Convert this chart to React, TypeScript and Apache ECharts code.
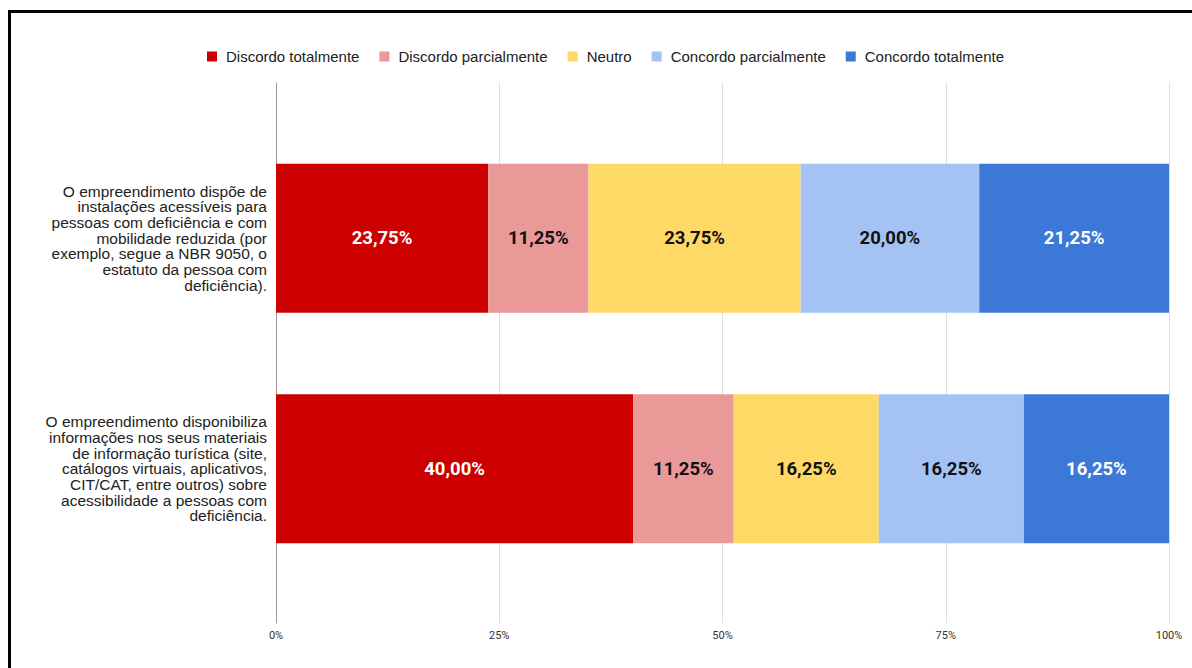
import React, { useEffect, useRef } from "react";
import * as echarts from "echarts";

const categories = [
  "O empreendimento dispõe de\ninstalações acessíveis para\npessoas com deficiência e com\nmobilidade reduzida (por\nexemplo, segue a NBR 9050, o\nestatuto da pessoa com\ndeficiência).",
  "O empreendimento disponibiliza\ninformações nos seus materiais\nde informação turística (site,\ncatálogos virtuais, aplicativos,\nCIT/CAT, entre outros) sobre\nacessibilidade a pessoas com\ndeficiência.",
];

const seriesNames = [
  "Discordo totalmente",
  "Discordo parcialmente",
  "Neutro",
  "Concordo parcialmente",
  "Concordo totalmente",
];

const discordoTotalmente = [23.75, 40.0];
const discordoParcialmente = [11.25, 11.25];
const neutro = [23.75, 16.25];
const concordoParcialmente = [20.0, 16.25];
const concordoTotalmente = [21.25, 16.25];

const seriesValues = [
  discordoTotalmente,
  discordoParcialmente,
  neutro,
  concordoParcialmente,
  concordoTotalmente,
];

const colors = ["#cc0000", "#ea9999", "#ffd966", "#a4c2f4", "#3c78d8"];
const labelColors = ["#ffffff", "#111111", "#111111", "#111111", "#ffffff"];

const xTicks = { min: 0, max: 100, interval: 25 };

export default function App() {
  const ref = useRef<HTMLDivElement>(null);
  useEffect(() => {
    if (!ref.current) return;
    const chart = echarts.init(ref.current, null, { renderer: "svg" });
    const option: any = {
      animation: false,
      backgroundColor: "#ffffff",
      graphic: [
        {
          type: "rect",
          shape: { x: 9.5, y: 11.5, width: 1250, height: 720 },
          style: { fill: "none", stroke: "#000000", lineWidth: 3 },
          silent: true,
          z: 100,
        },
      ],
      legend: {
        top: 44,
        left: 202,
        icon: "rect",
        itemWidth: 10,
        itemHeight: 10,
        itemGap: 20,
        data: seriesNames,
        textStyle: {
          fontFamily: "Liberation Sans, Arial, sans-serif",
          fontSize: 15,
          color: "#222222",
          padding: [0, 0, 0, 4],
        },
      },
      grid: [
        { left: 276, right: 23, top: 83, bottom: 45 },
        { left: 276, right: 23, top: 123, bottom: 84 },
      ],
      xAxis: [
        {
          gridIndex: 0,
          type: "value",
          min: xTicks.min,
          max: xTicks.max,
          interval: xTicks.interval,
          axisLine: { show: false },
          axisTick: { show: false },
          splitLine: { show: true, lineStyle: { color: "#dedede", width: 1 } },
          axisLabel: {
            formatter: "{value}%",
            fontFamily: "Roboto, sans-serif",
            fontSize: 11,
            color: "#333333",
            margin: 7,
          },
        },
        {
          gridIndex: 1,
          type: "value",
          min: xTicks.min,
          max: xTicks.max,
          show: false,
        },
      ],
      yAxis: [
        {
          gridIndex: 0,
          type: "value",
          axisLine: { show: true, lineStyle: { color: "#999999", width: 1 } },
          axisTick: { show: false },
          axisLabel: { show: false },
          splitLine: { show: false },
        },
        {
          gridIndex: 1,
          type: "category",
          inverse: true,
          data: categories,
          axisLine: { show: false },
          axisTick: { show: false },
          splitLine: { show: false },
          axisLabel: {
            fontFamily: "Liberation Sans, Arial, sans-serif",
            fontSize: 15.5,
            lineHeight: 15.7,
            color: "#222222",
            align: "right",
            margin: 9,
          },
        },
      ],
      series: seriesNames.map((name, i) => ({
        name,
        type: "bar",
        stack: "total",
        xAxisIndex: 1,
        yAxisIndex: 1,
        barWidth: 149,
        itemStyle: { color: colors[i] },
        label: {
          show: true,
          position: "inside",
          fontFamily: "Roboto, sans-serif",
          fontWeight: "bold",
          fontSize: 18.5,
          color: labelColors[i],
          formatter: (p: any) => Number(p.value).toFixed(2).replace(".", ",") + "%",
        },
        data: seriesValues[i],
      })),
    };
    chart.setOption(option);
    return () => chart.dispose();
  }, []);
  return (
    <div
      ref={ref}
      style={{ position: "fixed", left: 0, top: 0, width: 1192, height: 668 }}
    />
  );
}
